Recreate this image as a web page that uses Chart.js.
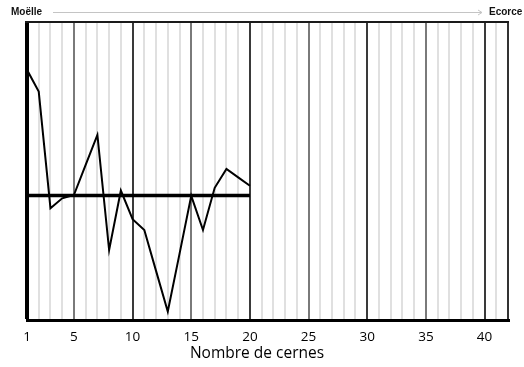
<!DOCTYPE html>
<html>
<head>
<meta charset="utf-8">
<script src="https://cdn.jsdelivr.net/npm/chart.js@4"></script>
<style>
  html, body { margin: 0; padding: 0; background: #fff; }
  #wrap { width: 524px; height: 367px; }
</style>
</head>
<body>
<div id="wrap"><canvas id="chart" width="524" height="367"></canvas></div>
<script>
// rings (cernes) and the measured index for each one
const cernes = [1, 2, 3, 4, 5, 6, 7, 8, 9, 10, 11, 12, 13, 14, 15, 16, 17, 18, 19, 20];
const valeurs = [84, 76.7, 37.7, 41, 42.1, 52.2, 62.2, 23.7, 43.6, 34, 30.4, 16.7, 3.1, 22.4, 41.8, 30.4, 44.5, 50.8, 48, 45.2];
const moyenne = 41.9;          // horizontal mean line
const moyenneDebut = 1;
const moyenneFin = 20;
const xTickLabels = [1, 5, 10, 15, 20, 25, 30, 35, 40];
const xMin = 1;
const xMax = 42;
const yMin = 0;
const yMax = 100;

const police = '"Open Sans", "DejaVu Sans", sans-serif';

// top arrow "Moëlle -> Ecorce", frame top, and axis title
const decorPlugin = {
    id: 'decor',
    beforeDatasetsDraw(chart) {
        const ctx = chart.ctx;
        const a = chart.chartArea;
        ctx.save();
        ctx.strokeStyle = '#1a1a1a';
        ctx.lineWidth = 2;
        ctx.beginPath();
        ctx.moveTo(a.left - 2, a.top);
        ctx.lineTo(a.right + 1, a.top);
        ctx.stroke();
        ctx.restore();
    },
    afterDraw(chart) {
        const ctx = chart.ctx;
        ctx.save();
        // header arrow
        ctx.strokeStyle = '#c4c4c4';
        ctx.lineWidth = 1;
        ctx.beginPath();
        ctx.moveTo(53, 12.5);
        ctx.lineTo(482, 12.5);
        ctx.stroke();
        ctx.beginPath();
        ctx.moveTo(478, 10);
        ctx.lineTo(482, 12.5);
        ctx.lineTo(478, 15);
        ctx.stroke();

        ctx.fillStyle = '#111';
        ctx.font = 'bold 10px "Liberation Sans", Arial, sans-serif';
        ctx.textBaseline = 'middle';
        ctx.textAlign = 'left';
        ctx.fillText('Moëlle', 11, 12);
        ctx.fillText('Ecorce', 489, 12);

        // x axis title
        ctx.font = '15.5px ' + police;
        ctx.textAlign = 'center';
        ctx.fillStyle = '#000';
        ctx.fillText('Nombre de cernes', 257, 354);
        ctx.restore();
    }
};

const ctx = document.getElementById('chart').getContext('2d');
new Chart(ctx, {
    type: 'line',
    data: {
        datasets: [
            {
                label: 'Indice',
                data: cernes.map((c, i) => ({ x: c, y: valeurs[i] })),
                borderColor: '#000',
                borderWidth: 2,
                pointRadius: 0,
                tension: 0,
                fill: false
            },
            {
                label: 'Moyenne',
                data: [{ x: moyenneDebut, y: moyenne }, { x: moyenneFin, y: moyenne }],
                borderColor: '#000',
                borderWidth: 3.5,
                pointRadius: 0,
                fill: false
            }
        ]
    },
    options: {
        responsive: false,
        animation: false,
        layout: {
            padding: { left: 27, right: 16, top: 22, bottom: 14 }
        },
        plugins: {
            legend: { display: false },
            tooltip: { enabled: false }
        },
        scales: {
            x: {
                type: 'linear',
                min: xMin,
                max: xMax,
                border: { display: true, color: '#000', width: 3 },
                grid: {
                    drawTicks: false,
                    color: (c) => {
                        const v = c.tick ? c.tick.value : 0;
                        if (v === 1) return '#000';
                        if (v === xMax) return '#333';
                        if (v % 10 === 0) return '#3a3a3a';
                        if (v % 5 === 0) return '#7a7a7a';
                        return '#e0e0e0';
                    },
                    lineWidth: (c) => {
                        const v = c.tick ? c.tick.value : 0;
                        if (v === 1) return 4;
                        return 2;
                    }
                },
                ticks: {
                    stepSize: 1,
                    autoSkip: false,
                    maxRotation: 0,
                    padding: 8,
                    color: '#000',
                    font: { family: police, size: 13.5 },
                    callback: (v) => xTickLabels.includes(v) ? String(v) : ''
                }
            },
            y: {
                display: false,
                min: yMin,
                max: yMax
            }
        }
    },
    plugins: [decorPlugin]
});
</script>
</body>
</html>
